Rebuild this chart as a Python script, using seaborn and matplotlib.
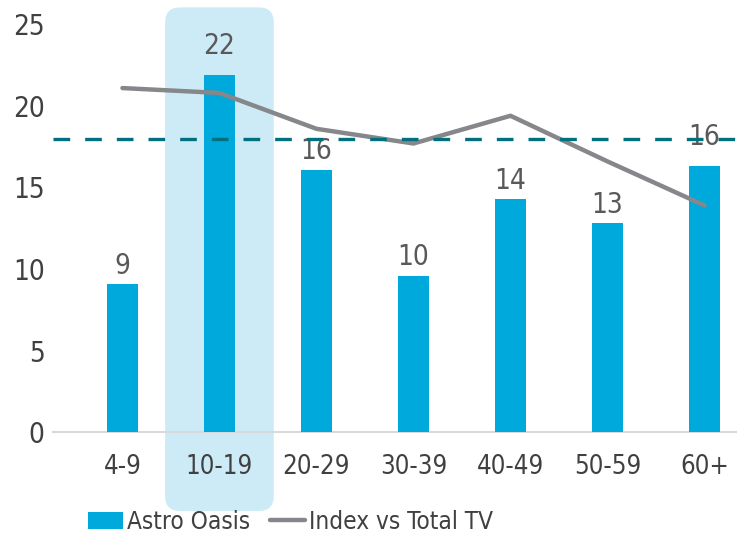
import matplotlib
matplotlib.use("Agg")
import pandas as pd
import seaborn as sns
import matplotlib.pyplot as plt
from matplotlib.patches import FancyBboxPatch

# values
age_groups = ["4-9", "10-19", "20-29", "30-39", "40-49", "50-59", "60+"]
astro_oasis = [9.1, 21.9, 16.1, 9.6, 14.3, 12.8, 16.3]
bar_labels = ["9", "22", "16", "10", "14", "13", "16"]
index_vs_tv = [21.1, 20.8, 18.6, 17.7, 19.4, 16.6, 13.9]
reference_level = 18.0
highlight_group = "10-19"
y_ticks = [0, 5, 10, 15, 20, 25]

# labels that were nudged up in the original (points)
label_pad = [3, 11, 3, 3, 3, 3, 11]

BAR_BLUE = "#00A9DB"
LINE_GREY = "#85878A"
DASH_TEAL = "#00707F"
HIGHLIGHT = "#CDEBF6"
TEXT = "#404040"

df = pd.DataFrame({"age": age_groups, "oasis": astro_oasis, "index": index_vs_tv})

sns.set_theme(style="white")
plt.rcParams["font.family"] = ["DejaVu Sans"]
plt.rcParams["font.stretch"] = "condensed"

fig = plt.figure(figsize=(7.37, 5.37), dpi=100)
ax = fig.add_axes([0.0719, 0.1955, 0.9281, 0.7589])
ax.set_zorder(1)

sns.barplot(data=df, x="age", y="oasis", color=BAR_BLUE, saturation=1,
            width=0.32, ax=ax, label="Astro Oasis", zorder=3, linewidth=0)
sns.lineplot(x=list(range(len(age_groups))), y=df["index"], color=LINE_GREY,
             lw=3.2, ax=ax, label="Index vs Total TV", zorder=4,
             solid_capstyle="round", solid_joinstyle="round")
ax.axhline(reference_level, color=DASH_TEAL, lw=2.4, ls=(0, (5, 4.5)), zorder=5)

ax.set_xlim(-0.716, 6.335)
ax.set_ylim(0, 25)
ax.set_yticks(y_ticks)
ax.set_xlabel("")
ax.set_ylabel("")
ax.tick_params(axis="y", labelsize=20, labelcolor=TEXT, pad=6, length=0)
ax.tick_params(axis="x", labelsize=18.5, labelcolor=TEXT, pad=16, length=0)
for side in ["left", "right", "top"]:
    ax.spines[side].set_visible(False)
ax.spines["bottom"].set_color("#D9D9D9")
ax.spines["bottom"].set_linewidth(1.5)

for bar, lab, pad in zip(ax.containers[0], bar_labels, label_pad):
    ax.annotate(lab, (bar.get_x() + bar.get_width() / 2, bar.get_height()),
                xytext=(0, pad), textcoords="offset points", ha="center", va="bottom",
                fontsize=20, color="#595959", zorder=2)

# rounded highlight behind the selected age group
hi = age_groups.index(highlight_group)
to_in = fig.dpi_scale_trans.inverted()
x0 = to_in.transform(ax.transData.transform((hi - 0.56, 0)))[0]
x1 = to_in.transform(ax.transData.transform((hi + 0.56, 0)))[0]
y_top = to_in.transform(ax.transData.transform((0, 26.05)))[1]
y_bot = 0.26
box = FancyBboxPatch((x0 + 0.15, y_bot + 0.15), x1 - x0 - 0.3, y_top - y_bot - 0.3,
                     boxstyle="round,pad=0.15", transform=fig.dpi_scale_trans,
                     facecolor=HIGHLIGHT, edgecolor="none", zorder=0)
fig.patches.append(box)
ax.patch.set_alpha(0)

ax.get_legend().remove()
handles, labels = ax.get_legend_handles_labels()
order = [labels.index("Astro Oasis"), labels.index("Index vs Total TV")]
fig.legend([handles[i] for i in order], [labels[i] for i in order],
           loc="center", bbox_to_anchor=(0.394, 0.028), ncol=2,
           frameon=False, fontsize=17.5, handlelength=1.45, handletextpad=0.15,
           columnspacing=0.8, labelcolor=TEXT)

fig.savefig("out.png", dpi=100)
